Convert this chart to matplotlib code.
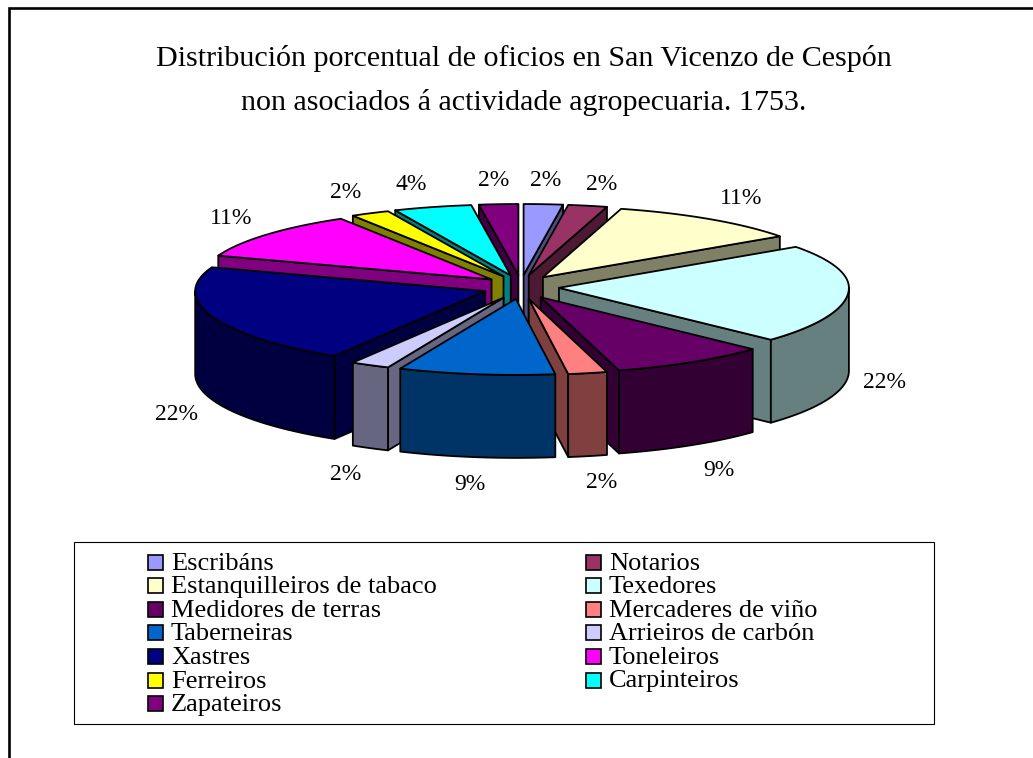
import numpy as np
import matplotlib
matplotlib.use('Agg')
import matplotlib.pyplot as plt
import matplotlib.colors as mcolors
from matplotlib.patches import Polygon, Rectangle

plt.rcParams['font.family'] = ['Liberation Serif', 'DejaVu Serif']

# Data
oficios = ['Escribáns', 'Notarios', 'Estanquilleiros de tabaco', 'Texedores',
           'Medidores de terras', 'Mercaderes de viño', 'Taberneiras',
           'Arrieiros de carbón', 'Xastres', 'Toneleiros', 'Ferreiros',
           'Carpinteiros', 'Zapateiros']
cantidades = [1, 1, 5, 10, 4, 1, 4, 1, 10, 5, 1, 2, 1]
cores = ['#9999FF', '#993366', '#FFFFCC', '#CCFFFF', '#660066', '#FF8080', '#0066CC',
         '#CCCCFF', '#000080', '#FF00FF', '#FFFF00', '#00FFFF', '#800080']

# Label centres in image pixels, same order as oficios
label_pos = [(546, 180), (602, 185), (741, 199), (884, 383), (719, 470), (602, 483),
             (470, 485), (346, 475), (176, 414), (231, 219), (346, 192), (411, 185), (494, 180)]

# Layout of the fake 3D pie, in pixels
cx, cy = 521, 287
radius = 290
ry_back, ry_front = 71, 76
depth = 83
explode_x, explode_y = 38, 12


def rim(tip, a1, a2, n=60):
    t = np.radians(np.linspace(a1, a2, n))
    c = np.cos(t)
    ry = np.where(c > 0, ry_back, ry_front)
    return np.column_stack([tip[0] + radius * np.sin(t), tip[1] - ry * c])


def darker(color):
    return tuple(c * 0.5 for c in mcolors.to_rgb(color))


def add_poly(ax, pts, color):
    ax.add_patch(Polygon(pts, closed=True, facecolor=color, edgecolor='black',
                         linewidth=1.3, joinstyle='round'))


fig = plt.figure(figsize=(10.33, 7.58), dpi=100)
ax = fig.add_axes([0, 0, 1, 1])
ax.set_xlim(0, 1033)
ax.set_ylim(758, 0)
ax.axis('off')

total = sum(cantidades)
edges = np.concatenate([[0], np.cumsum(cantidades)]) / total * 360
mids = (edges[:-1] + edges[1:]) / 2

# Back slices first so the front ones cover them
order = np.argsort(-np.cos(np.radians(mids)), kind='stable')
drop = np.array([0, depth])

for i in order:
    a1, a2 = edges[i], edges[i + 1]
    m = np.radians(mids[i])
    tip = np.array([cx + explode_x * np.sin(m), cy - explode_y * np.cos(m)])
    side = darker(cores[i])

    # Cut faces that turn toward the viewer
    for a, sign in ((a1, -1), (a2, 1)):
        if sign * np.sin(np.radians(a)) > 0:
            p = rim(tip, a, a, 1)[0]
            add_poly(ax, [tip, p, p + drop, tip + drop], side)

    # Outer wall, only the front half of the ellipse
    w1, w2 = max(a1, 90), min(a2, 270)
    if w2 > w1:
        arc = rim(tip, w1, w2)
        add_poly(ax, np.vstack([arc, (arc + drop)[::-1]]), side)

    # Top
    add_poly(ax, np.vstack([[tip], rim(tip, a1, a2)]), cores[i])

for (x, y), v in zip(label_pos, cantidades):
    ax.text(x, y, f'{round(100 * v / total)}%', fontsize=17, ha='center', va='center')

# Title
ax.text(524, 59, 'Distribución porcentual de oficios en San Vicenzo de Cespón',
        fontsize=21.6, ha='center', va='center')
ax.text(524, 103, 'non asociados á actividade agropecuaria. 1753.',
        fontsize=21.6, ha='center', va='center')

# Legend, filled row by row
ax.add_patch(Rectangle((74, 542), 860, 182, facecolor='white', edgecolor='black', linewidth=0.8))
for i, (nome, cor) in enumerate(zip(oficios, cores)):
    col, row = i % 2, i // 2
    y = 562 + row * 23.6
    x = 148 + col * 438
    ax.add_patch(Rectangle((x, y - 7.5), 15, 15, facecolor=cor, edgecolor='black', linewidth=1.2))
    ax.text(x + 23, y + 7.5, nome, fontsize=19, ha='left', va='baseline')

# Frame: only the top and left sides show in the picture
ax.plot([8.5, 8.5, 1033], [758, 8, 8], color='black', linewidth=1.9,
        solid_joinstyle='miter', solid_capstyle='butt')

fig.savefig('out.png', dpi=100)
